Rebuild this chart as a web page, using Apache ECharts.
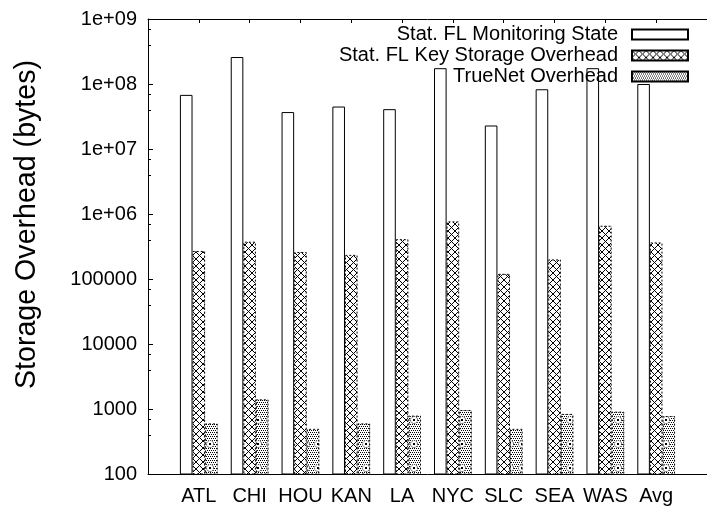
<!DOCTYPE html>
<html>
<head>
<meta charset="utf-8">
<title>Storage Overhead</title>
<script src="https://cdn.jsdelivr.net/npm/echarts@6/dist/echarts.min.js"></script>
<style>
  html, body { margin: 0; padding: 0; background: #fff; }
  #chart { width: 707px; height: 506px; }
</style>
</head>
<body>
<div id="chart"></div>
<script>
// Data
const categories = ['ATL', 'CHI', 'HOU', 'KAN', 'LA', 'NYC', 'SLC', 'SEA', 'WAS', 'Avg'];
const monitoringState = [6.8e7, 2.6e8, 3.7e7, 4.5e7, 4.1e7, 1.75e8, 2.3e7, 8.3e7, 1.75e8, 1.0e8];
const keyStorage = [2.7e5, 3.75e5, 2.6e5, 2.35e5, 4.1e5, 7.7e5, 1.2e5, 2.0e5, 6.6e5, 3.65e5];
const trueNet = [600, 1410, 495, 600, 790, 965, 495, 840, 910, 780];
const seriesNames = ['Stat. FL Monitoring State', 'Stat. FL Key Storage Overhead', 'TrueNet Overhead'];

const FONT = 'Liberation Sans, Helvetica, Arial, sans-serif';

// gnuplot-like fill patterns
function crossPattern() {
    const c = document.createElement('canvas');
    const n = 7;
    c.width = n; c.height = n;
    const ctx = c.getContext('2d');
    ctx.fillStyle = '#fff';
    ctx.fillRect(0, 0, n, n);
    ctx.fillStyle = '#000';
    for (let i = 0; i < n; i++) {
        ctx.fillRect(i, i, 1, 1);
        ctx.fillRect(n - 1 - i, i, 1, 1);
    }
    return c;
}

function dotPattern() {
    const c = document.createElement('canvas');
    const w = 12, h = 24;
    c.width = w; c.height = h;
    const ctx = c.getContext('2d');
    ctx.fillStyle = '#fff';
    ctx.fillRect(0, 0, w, h);
    ctx.fillStyle = '#000';
    for (let y = 0; y < h; y += 2) {
        for (let x = (y / 2) % 2; x < w; x += 2) {
            ctx.fillRect(x, y, 1, 1);
        }
    }
    // little rings like the reference
    ctx.fillStyle = '#fff';
    ctx.beginPath();
    ctx.arc(6, 12, 4, 0, Math.PI * 2);
    ctx.fill();
    ctx.strokeStyle = '#000';
    ctx.lineWidth = 1;
    ctx.setLineDash([1, 1]);
    ctx.beginPath();
    ctx.arc(6, 12, 3.5, 0, Math.PI * 2);
    ctx.stroke();
    ctx.fillStyle = '#000';
    ctx.fillRect(5, 11, 2, 2);
    return c;
}

const toPoints = arr => arr.map((v, i) => [i, v]);

function barSeries(name, data, color, borderType) {
    return {
        name: name,
        type: 'bar',
        data: toPoints(data),
        barWidth: 12.6,
        barGap: '0%',
        clip: true,
        itemStyle: {
            color: color,
            borderColor: '#000',
            borderWidth: 1,
            borderType: borderType
        }
    };
}

function formatTick(v) {
    if (v >= 1e6) {
        const e = Math.round(Math.log10(v));
        return '1e+' + (e < 10 ? '0' + e : e);
    }
    return String(Math.round(v));
}

const chart = echarts.init(document.getElementById('chart'), null, { renderer: 'canvas' });

chart.setOption({
    animation: false,
    backgroundColor: '#fff',
    textStyle: { fontFamily: FONT },
    grid: { left: 148, top: 19, width: 566.5, height: 457, containLabel: false },
    legend: {
        orient: 'vertical',
        align: 'right',
        right: 18,
        top: 24,
        padding: 0,
        itemWidth: 56,
        itemHeight: 10,
        itemGap: 0,
        icon: 'rect',
        data: seriesNames,
        textStyle: { fontFamily: FONT, fontSize: 20, color: '#000', lineHeight: 21, padding: [0, 9, 0, 0] }
    },
    xAxis: [{
        type: 'value',
        position: 'bottom',
        min: -1,
        max: 10,
        interval: 1,
        axisLine: { show: true, onZero: false, lineStyle: { color: '#000', width: 1 } },
        axisTick: { show: false },
        splitLine: { show: false },
        axisLabel: {
            fontFamily: FONT,
            fontSize: 20,
            color: '#000',
            margin: 12,
            showMinLabel: false,
            showMaxLabel: false,
            formatter: v => categories[v] || ''
        }
    }, {
        type: 'value',
        position: 'top',
        min: -1,
        max: 10,
        interval: 1,
        axisLine: { show: true, onZero: false, lineStyle: { color: '#000', width: 1 } },
        axisTick: { show: true, inside: true, length: 4, lineStyle: { color: '#000' } },
        splitLine: { show: false },
        axisLabel: { show: false }
    }],
    yAxis: {
        type: 'log',
        logBase: 10,
        min: 100,
        max: 1e9,
        name: 'Storage Overhead (bytes)',
        nameLocation: 'middle',
        nameGap: 106,
        nameTextStyle: { fontFamily: FONT, fontSize: 28.6, color: '#000', padding: [0, 0, 0, 44] },
        axisLine: { show: true, onZero: false, lineStyle: { color: '#000', width: 1 } },
        axisTick: { show: true, inside: true, length: 5, lineStyle: { color: '#000' } },
        minorTick: { show: true, splitNumber: 3, length: 3, lineStyle: { color: '#000' } },
        splitLine: { show: false },
        minorSplitLine: { show: false },
        axisLabel: {
            fontFamily: FONT,
            fontSize: 20,
            color: '#000',
            margin: 11,
            formatter: formatTick
        }
    },
    series: [
        barSeries(seriesNames[0], monitoringState, '#fff', 'solid'),
        barSeries(seriesNames[1], keyStorage, { image: crossPattern(), repeat: 'repeat' }, [2, 2]),
        barSeries(seriesNames[2], trueNet, { image: dotPattern(), repeat: 'repeat' }, [2, 2])
    ]
});
</script>
</body>
</html>
